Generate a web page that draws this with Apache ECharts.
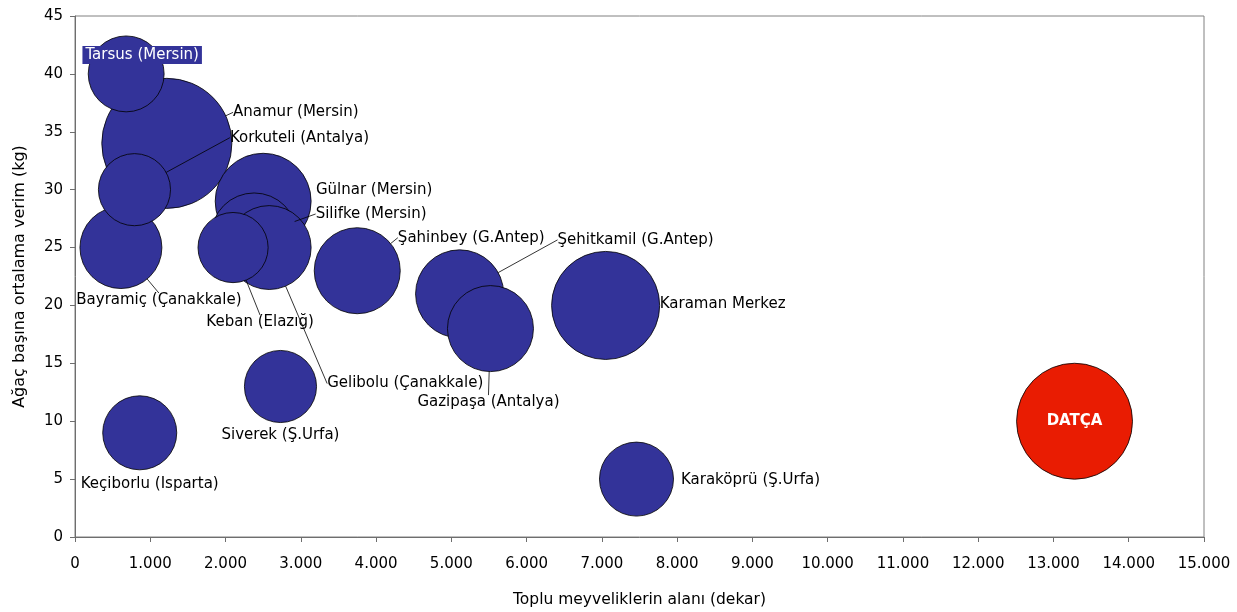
<!DOCTYPE html>
<html>
<head>
<meta charset="utf-8">
<script src="https://cdn.jsdelivr.net/npm/echarts@6/dist/echarts.min.js"></script>
<style>html,body{margin:0;padding:0;background:#fff}#c{width:1237px;height:612px}</style>
</head>
<body>
<div id="c"></div>
<script>
// ---- data ----
const names = ["Tarsus (Mersin)","Anamur (Mersin)","Korkuteli (Antalya)","Bayramiç (Çanakkale)","Gülnar (Mersin)","Silifke (Mersin)","Gelibolu (Çanakkale)","Keban (Elazığ)","Şahinbey (G.Antep)","Şehitkamil (G.Antep)","Gazipaşa (Antalya)","Karaman Merkez","Siverek (Ş.Urfa)","Keçiborlu (Isparta)","Karaköprü (Ş.Urfa)","DATÇA"];
const area = [680,1220,790,610,2500,2380,2580,2100,3750,5110,5520,7050,2730,860,7460,13280];   // dekar
const yieldKg = [40,34,30,25,29,26,25,25,23,21,18,20,13,9,5,10];                            // kg / tree
const bubbleValue = [14.4,42.3,13.0,16.8,23.0,18.5,17.6,12.3,18.5,19.4,18.5,29.2,13.0,13.7,13.7,33.6];
const xTicks = {min:0,max:15000,interval:1000};
const yTicks = {min:0,max:45,interval:5};

// ---- label placement (pixel offsets of label centre from bubble centre, leader line) ----
const labelPlace = {
  "Tarsus (Mersin)":[16,-19,false],
  "Anamur (Mersin)":[129,-31,true],
  "Korkuteli (Antalya)":[165,-52,true],
  "Bayramiç (Çanakkale)":[38,53,true],
  "Gülnar (Mersin)":[111,-11,false],
  "Silifke (Mersin)":[117,-22,true],
  "Gelibolu (Çanakkale)":[136,136,true],
  "Keban (Elazığ)":[27,75,true],
  "Şahinbey (G.Antep)":[114,-33,true],
  "Şehitkamil (G.Antep)":[176,-54,true],
  "Gazipaşa (Antalya)":[-2,74,true],
  "Karaman Merkez":[117,-1,false],
  "Siverek (Ş.Urfa)":[0,49,false],
  "Keçiborlu (Isparta)":[10,51,false],
  "Karaköprü (Ş.Urfa)":[114,1,false],
  "DATÇA":[0,0,false]
};

const FONT = "DejaVu Sans";
const order = names.map((n,i)=>i).sort((a,b)=>bubbleValue[b]-bubbleValue[a]);

const bubbleData = order.map(i=>{
  const item = {name:names[i], value:[area[i], yieldKg[i], bubbleValue[i]]};
  if (names[i] === "DATÇA") item.itemStyle = {color:'#E91C02'};
  return item;
});

const labelData = order.map(i=>{
  const n = names[i];
  const item = {name:n, value:[area[i], yieldKg[i], bubbleValue[i]], labelLine:{show:labelPlace[n][2]}};
  if (n === "DATÇA") item.label = {color:'#fff', fontWeight:'bold', fontSize:15};
  if (n === "Tarsus (Mersin)") item.label = {color:'#fff', backgroundColor:'#333399', padding:[2,3,1,3]};
  return item;
});

const sizeFn = v=>Math.sqrt(v[2])*20;

const chart = echarts.init(document.getElementById('c'), null, {renderer:'canvas'});
chart.setOption({
  animation:false,
  textStyle:{fontFamily:FONT},
  grid:{left:75, right:33, top:16, bottom:75, show:true, borderColor:'#808080', borderWidth:1,
        containLabel:false, outerBoundsMode:'none'},
  xAxis:{
    type:'value', min:xTicks.min, max:xTicks.max, interval:xTicks.interval,
    name:'Toplu meyveliklerin alanı (dekar)', nameLocation:'middle', nameGap:55,
    nameTextStyle:{fontFamily:FONT, fontSize:15.5, color:'#000'},
    axisLine:{show:true, lineStyle:{color:'#6e6e6e'}},
    axisTick:{show:true, length:5, lineStyle:{color:'#6e6e6e'}},
    splitLine:{show:false},
    axisLabel:{fontFamily:FONT, fontSize:15, color:'#000', margin:20,
      formatter:v=>String(v).replace(/\B(?=(\d{3})+(?!\d))/g,'.')}
  },
  yAxis:{
    type:'value', min:yTicks.min, max:yTicks.max, interval:yTicks.interval,
    name:'Ağaç başına ortalama verim (kg)', nameLocation:'middle', nameGap:47,
    nameTextStyle:{fontFamily:FONT, fontSize:16, color:'#000'},
    axisLine:{show:true, lineStyle:{color:'#6e6e6e'}},
    axisTick:{show:true, length:5, lineStyle:{color:'#6e6e6e'}},
    splitLine:{show:false},
    axisLabel:{fontFamily:FONT, fontSize:15, color:'#000', margin:12}
  },
  series:[{
    type:'scatter', z:2,
    data:bubbleData,
    symbolSize:sizeFn,
    itemStyle:{color:'#333399', borderColor:'#000', borderWidth:0.8, opacity:1},
    label:{show:false},
    emphasis:{disabled:true}
  },{
    type:'scatter', z:3,
    data:labelData,
    symbolSize:sizeFn,
    itemStyle:{color:'rgba(0,0,0,0)', borderWidth:0, opacity:1},
    label:{show:true, position:'inside', formatter:'{b}', fontFamily:FONT, fontSize:15, color:'#000'},
    labelLine:{show:true, lineStyle:{color:'#000', width:0.8, opacity:1}},
    labelLayout:function(p){
      const o = labelPlace[labelData[p.dataIndex].name];
      return {dx:o[0], dy:o[1], hideOverlap:false};
    },
    emphasis:{disabled:true},
    silent:true
  }]
});
</script>
</body>
</html>
